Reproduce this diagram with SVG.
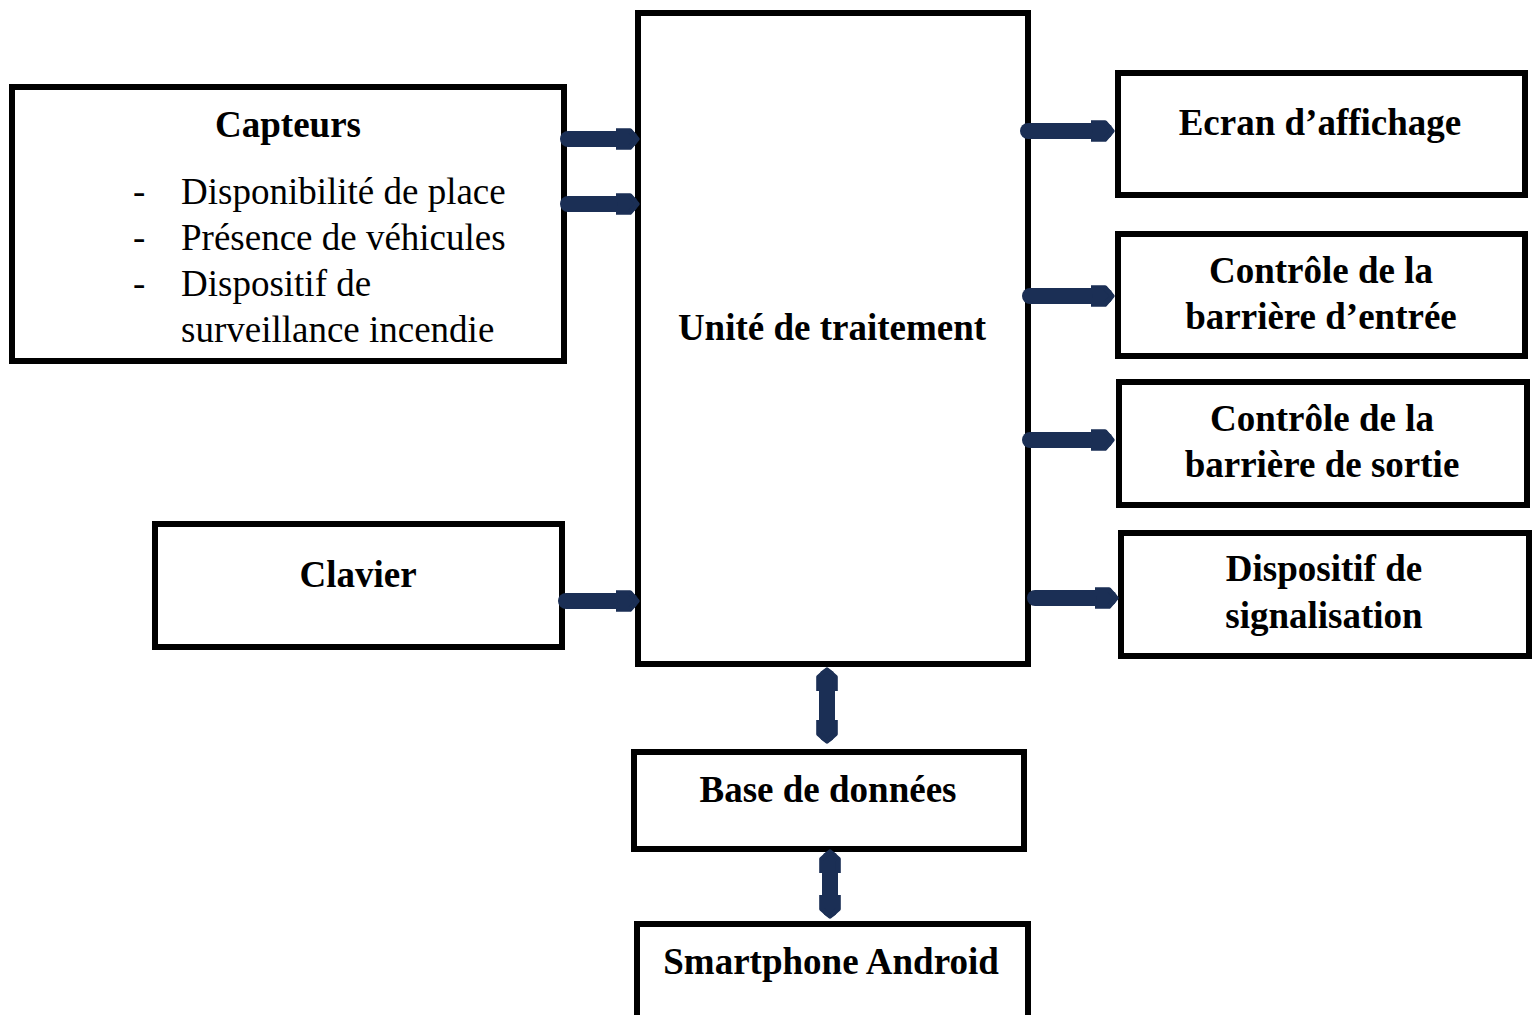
<svg xmlns="http://www.w3.org/2000/svg" width="1532" height="1015" viewBox="0 0 1532 1015">
<style>
.box{fill:#fff;stroke:#000;stroke-width:6}
.t{font-family:"Liberation Serif",serif;font-weight:bold;font-size:37px;fill:#000;text-anchor:middle}
.r{font-family:"Liberation Serif",serif;font-size:37px;fill:#000}
.c{stroke:#1b2f55;stroke-width:16;stroke-linecap:round;fill:none}
</style>
<defs>
<marker id="h" viewBox="0 0 10 10" refX="6" refY="5" markerWidth="1.5" markerHeight="1.9" orient="auto-start-reverse" markerUnits="strokeWidth">
<path d="M0,1.5 L6,1.5 L9,5 L6,8.5 L0,8.5 Z" fill="#1b2f55" stroke="#1b2f55" stroke-width="2" stroke-linejoin="round"/>
</marker>
</defs>
<rect width="1532" height="1015" fill="#fff"/>
<g id="unite"><rect class="box" x="638" y="13" width="390" height="651"/><text class="t" x="832" y="340">Unité de traitement</text></g>
<g id="capteurs"><rect class="box" x="12" y="87" width="552" height="274"/>
<text class="t" x="288" y="137">Capteurs</text>
<text class="r" x="133" y="204">-</text><text class="r" x="181" y="204">Disponibilité de place</text>
<text class="r" x="133" y="250">-</text><text class="r" x="181" y="250">Présence de véhicules</text>
<text class="r" x="133" y="296">-</text><text class="r" x="181" y="296">Dispositif de</text>
<text class="r" x="181" y="342">surveillance incendie</text></g>
<g id="clavier"><rect class="box" x="155" y="524" width="407" height="123"/><text class="t" x="358" y="587">Clavier</text></g>
<g id="ecran"><rect class="box" x="1118" y="73" width="407" height="122"/><text class="t" x="1320" y="135">Ecran d’affichage</text></g>
<g id="entree"><rect class="box" x="1118" y="234" width="407" height="122"/><text class="t" x="1321" y="283">Contrôle de la</text><text class="t" x="1321" y="329">barrière d’entrée</text></g>
<g id="sortie"><rect class="box" x="1119" y="382" width="408" height="123"/><text class="t" x="1322" y="431">Contrôle de la</text><text class="t" x="1322" y="477">barrière de sortie</text></g>
<g id="signalisation"><rect class="box" x="1121" y="533" width="408" height="123"/><text class="t" x="1324" y="581">Dispositif de</text><text class="t" x="1324" y="628">signalisation</text></g>
<g id="bdd"><rect class="box" x="634" y="752" width="390" height="97"/><text class="t" x="828" y="802">Base de données</text></g>
<g id="smartphone"><rect class="box" x="637" y="924" width="391" height="100"/><text class="t" x="831" y="974">Smartphone Android</text></g>
<g id="connectors">
<line class="c" x1="568" y1="139" x2="630" y2="139" marker-end="url(#h)" stroke-linecap="butt"/>
<line class="c" x1="568" y1="204" x2="630" y2="204" marker-end="url(#h)" stroke-linecap="butt"/>
<line class="c" x1="566" y1="601" x2="630" y2="601" marker-end="url(#h)" stroke-linecap="butt"/>
<line class="c" x1="1028" y1="131" x2="1105" y2="131" marker-end="url(#h)"/>
<line class="c" x1="1030" y1="296" x2="1105" y2="296" marker-end="url(#h)"/>
<line class="c" x1="1030" y1="440" x2="1105" y2="440" marker-end="url(#h)"/>
<line class="c" x1="1035" y1="598" x2="1109" y2="598" marker-end="url(#h)"/>
<line class="c" x1="827" y1="677" x2="827" y2="734" marker-start="url(#h)" marker-end="url(#h)"/>
<line class="c" x1="830" y1="859" x2="830" y2="909" marker-start="url(#h)" marker-end="url(#h)"/>
</g>
</svg>
